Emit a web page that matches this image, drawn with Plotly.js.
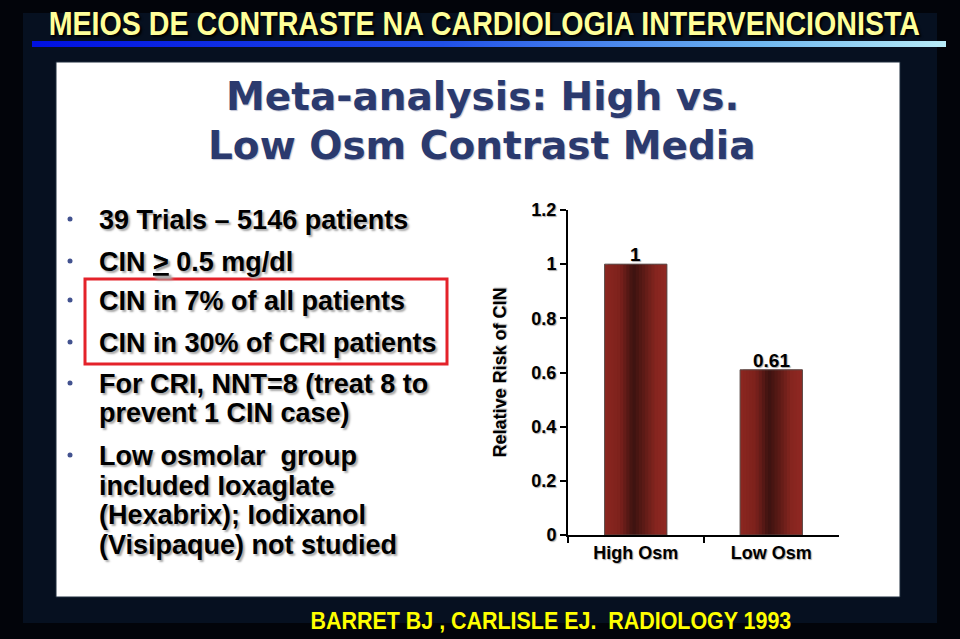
<!DOCTYPE html>
<html>
<head>
<meta charset="utf-8">
<script src="https://cdn.plot.ly/plotly-3.0.1.min.js"></script>
<style>
  html, body { margin: 0; padding: 0; background: #02040a; }
  #chart { width: 960px; height: 639px; }
</style>
</head>
<body>
<div id="chart"></div>
<script>
// ---- data ----
const categories = ["High Osm", "Low Osm"];
const relativeRisk = [1, 0.61];
const valueLabels = ["1", "0.61"];
const yTickValues = [0, 0.2, 0.4, 0.6, 0.8, 1, 1.2];
const yTickLabels = ["0", "0.2", "0.4", "0.6", "0.8", "1", "1.2"];
const pageTitle = "MEIOS DE CONTRASTE NA CARDIOLOGIA INTERVENCIONISTA";
const slideTitleLines = ["Meta-analysis: High vs.", "Low Osm Contrast Media"];
const bulletLines = [
  ["39 Trials \u2013 5146 patients"],
  ["CIN <span style=\"text-decoration:underline\">&gt;</span> 0.5 mg/dl"],
  ["CIN in 7% of all patients"],
  ["CIN in 30% of CRI patients"],
  ["For CRI, NNT=8 (treat 8 to", "prevent 1 CIN case)"],
  ["Low osmolar  group", "included Ioxaglate", "(Hexabrix); Iodixanol", "(Visipaque) not studied"]
];
const citation = "BARRET BJ , CARLISLE EJ.  RADIOLOGY 1993";

// ---- layout helpers (pixel -> paper) ----
const W = 960, H = 639;
const X = px => px / W;
const Y = py => 1 - py / H;

const arial = "Liberation Sans, Arial, sans-serif";

// gradient strips for the bars
const barWidth = 0.46;
const nStrips = 20;
const stops = [
  [0.00, [140, 38, 32]],
  [0.25, [124, 33, 28]],
  [0.46, [60, 18, 16]],
  [0.62, [90, 26, 22]],
  [0.82, [134, 37, 31]],
  [1.00, [144, 40, 34]]
];
function colorAt(t) {
  for (let i = 0; i < stops.length - 1; i++) {
    const [t0, c0] = stops[i], [t1, c1] = stops[i + 1];
    if (t >= t0 && t <= t1) {
      const f = (t - t0) / (t1 - t0);
      const c = c0.map((v, k) => Math.round(v + (c1[k] - v) * f));
      return `rgb(${c[0]},${c[1]},${c[2]})`;
    }
  }
  return "rgb(140,38,32)";
}

const traces = [];
const sw = barWidth / nStrips;
for (let i = 0; i < nStrips; i++) {
  const w = (i === nStrips - 1) ? sw : 2 * sw;
  traces.push({
    type: "bar",
    x: categories,
    y: relativeRisk,
    width: categories.map(() => w),
    offset: categories.map(() => -barWidth / 2 + i * sw),
    marker: { color: colorAt((i + 0.5) / nStrips), line: { width: 0 } },
    hoverinfo: "skip",
    showlegend: false
  });
}
// outline
traces.push({
  type: "bar",
  x: categories,
  y: relativeRisk,
  width: categories.map(() => barWidth),
  offset: categories.map(() => -barWidth / 2),
  marker: { color: "rgba(0,0,0,0)", line: { color: "#5a4a48", width: 1 } },
  hoverinfo: "skip",
  showlegend: false
});

// ---- annotations ----
const annotations = [];
const stretchTargets = []; // [annotation index, target width px]
stretchTargets.push([annotations.length, 872]);
annotations.push({
  text: pageTitle, xref: "paper", yref: "paper", x: X(484), y: Y(24),
  xanchor: "center", yanchor: "middle", showarrow: false,
  font: { family: arial, size: 33, color: "#ffff99", weight: 700, shadow: "2px 2px 2px #000" }
});
slideTitleLines.forEach((t, i) => {
  annotations.push({
    text: t, xref: "paper", yref: "paper", x: X(482), y: Y(97 + i * 49),
    xanchor: "center", yanchor: "middle", showarrow: false,
    font: { family: "DejaVu Sans, Verdana, sans-serif", size: 39, color: "#2b3a6e", weight: 700, shadow: "1px 1px 1px #c0c4d4" }
  });
});
const lineY = [[220], [262], [301], [343], [384, 413], [456, 486, 515, 545]];
bulletLines.forEach((lines, bi) => {
  lines.forEach((t, li) => {
    annotations.push({
      text: t, xref: "paper", yref: "paper", x: X(97), y: Y(lineY[bi][li]),
      xanchor: "left", yanchor: "middle", showarrow: false,
      font: { family: arial, size: 27, color: "#000000", weight: 700, shadow: "2px 2px 2px #a8a8a8" }
    });
  });
});
stretchTargets.push([annotations.length, 481]);
annotations.push({
  text: citation, xref: "paper", yref: "paper", x: X(551), y: Y(621),
  xanchor: "center", yanchor: "middle", showarrow: false,
  font: { family: arial, size: 23, color: "#ffff00", weight: 700 }
});
categories.forEach((c, i) => {
  annotations.push({
    text: valueLabels[i], x: c, y: relativeRisk[i], xref: "x", yref: "y",
    xanchor: "center", yanchor: "bottom", showarrow: false, yshift: -3,
    font: { family: arial, size: 19, color: "#000", weight: 700, shadow: "1px 1px 1px #aaa" }
  });
});

// ---- shapes ----
const shapes = [
  { type: "rect", xref: "paper", yref: "paper", x0: X(23), x1: X(937), y0: Y(13), y1: Y(623),
    fillcolor: "#061020", line: { width: 0 }, layer: "below" },
  { type: "rect", xref: "paper", yref: "paper", x0: X(56), x1: X(900), y0: Y(62), y1: Y(597),
    fillcolor: "#ffffff", line: { color: "#1e2c3c", width: 1 }, layer: "below" },
  { type: "rect", xref: "paper", yref: "paper", x0: X(85), x1: X(447), y0: Y(279), y1: Y(364),
    fillcolor: "rgba(0,0,0,0)", line: { color: "#e4222a", width: 3 }, layer: "above" }
];
[220, 262, 301, 343, 384, 456].forEach(py => {
  shapes.push({ type: "circle", xref: "paper", yref: "paper",
    x0: X(67.5), x1: X(72.5), y0: Y(py - 3.5), y1: Y(py + 1.5),
    fillcolor: "#42528f", line: { width: 0 }, layer: "above" });
});

const gradSvg = '<svg xmlns="http://www.w3.org/2000/svg" width="914" height="6" preserveAspectRatio="none">' +
  '<defs><linearGradient id="g" x1="0" x2="1" y1="0" y2="0">' +
  '<stop offset="0" stop-color="#0010e0"/><stop offset="0.45" stop-color="#2050e8"/>' +
  '<stop offset="0.8" stop-color="#70b8f0"/><stop offset="1" stop-color="#b8ecf8"/></linearGradient></defs>' +
  '<rect width="914" height="6" fill="url(#g)"/></svg>';

const chartFont = { family: arial, size: 18, color: "#000", weight: 700, shadow: "1px 1px 1px #aaa" };

const layout = {
  width: W, height: H,
  margin: { l: 0, r: 0, t: 0, b: 0 },
  paper_bgcolor: "#02040a",
  plot_bgcolor: "rgba(0,0,0,0)",
  barmode: "overlay",
  showlegend: false,
  xaxis: {
    domain: [X(568), X(839)],
    type: "category",
    showline: true, linecolor: "#000", linewidth: 2,
    ticks: "outside", tickson: "boundaries", ticklen: 6, tickcolor: "#000", tickwidth: 2,
    showgrid: false, zeroline: false,
    tickfont: chartFont,
    range: [-0.5, 1.5], fixedrange: true
  },
  yaxis: {
    domain: [Y(535), Y(210)],
    range: [0, 1.2],
    tickvals: yTickValues, ticktext: yTickLabels,
    showline: true, linecolor: "#000", linewidth: 2,
    ticks: "outside", ticklen: 6, tickcolor: "#000", tickwidth: 2,
    showgrid: false, zeroline: false,
    tickfont: chartFont,
    title: { text: "Relative Risk of CIN", standoff: 20, font: chartFont },
    fixedrange: true
  },
  annotations: annotations,
  shapes: shapes,
  images: [{
    source: "data:image/svg+xml;charset=utf-8," + encodeURIComponent(gradSvg),
    xref: "paper", yref: "paper", x: X(32), y: Y(41), sizex: X(946) - X(32), sizey: 6 / H,
    sizing: "stretch", xanchor: "left", yanchor: "top", layer: "above"
  }]
};

Plotly.newPlot("chart", traces, layout, { displayModeBar: false, staticPlot: true }).then(gd => {
  // condense the narrow-font texts (Arial Narrow look) to their measured widths
  stretchTargets.forEach(([idx, target]) => {
    const t = gd.querySelector('.annotation[data-index="' + idx + '"] text.annotation-text');
    if (!t) return;
    const wNow = t.getBBox().width;
    if (wNow > 0) {
      t.style.transformBox = "fill-box";
      t.style.transformOrigin = "center";
      t.style.transform = "scaleX(" + (target / wNow) + ")";
    }
  });
});
</script>
</body>
</html>
